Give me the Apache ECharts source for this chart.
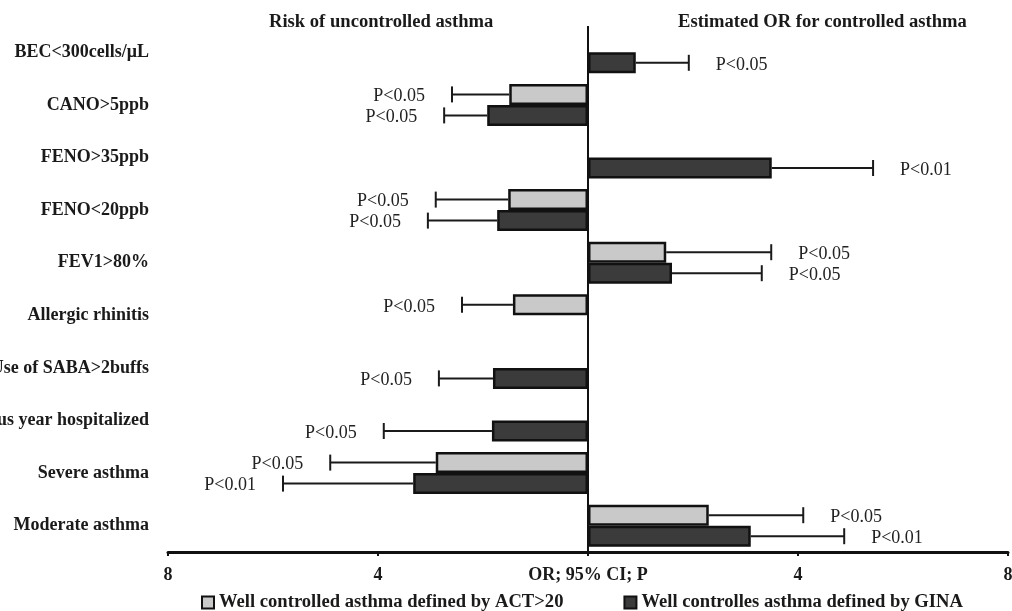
<!DOCTYPE html>
<html>
<head>
<meta charset="utf-8">
<script src="https://cdn.jsdelivr.net/npm/echarts@6/dist/echarts.min.js"></script>
<style>html,body{margin:0;padding:0;background:#fff}#c{width:1012px;height:611px}</style>
</head>
<body>
<div id="c"></div>
<script>
// Categories (top to bottom)
var categories = ['BEC<300cells/\u03bcL', 'CANO>5ppb', 'FENO>35ppb', 'FENO<20ppb', 'FEV1>80%',
  'Allergic rhinitis', 'Use of SABA>2buffs', 'Previous year hospitalized', 'Severe asthma', 'Moderate asthma'];
// Negative = risk of uncontrolled asthma (left), positive = OR for controlled asthma (right)
var actOR   = [null, -1.50, null, -1.52, 1.49, -1.43, null, null, -2.90, 2.30];
var actCI   = [null, -2.59, null, -2.90, 3.49, -2.40, null, null, -4.91, 4.10];
var actP    = [null, 'P<0.05', null, 'P<0.05', 'P<0.05', 'P<0.05', null, null, 'P<0.05', 'P<0.05'];
var ginaOR  = [0.91, -1.92, 3.50, -1.73, 1.60, null, -1.81, -1.83, -3.33, 3.10];
var ginaCI  = [1.92, -2.74, 5.43, -3.05, 3.31, null, -2.84, -3.89, -5.81, 4.88];
var ginaP   = ['P<0.05', 'P<0.05', 'P<0.01', 'P<0.05', 'P<0.05', null, 'P<0.05', 'P<0.05', 'P<0.01', 'P<0.01'];
var xTicks  = [-8, -4, 0, 4, 8];
var seriesNames = ['Well controlled asthma defined by ACT>20', 'Well controlles asthma defined by GINA'];
var panelTitles = ['Risk of uncontrolled asthma', 'Estimated OR for controlled asthma'];
var centerLabel = 'OR; 95% CI; P';

var FONT = 'Liberation Serif';
var BAR_W = 21;

function errData(orArr, ciArr) {
  var out = [];
  for (var i = 0; i < orArr.length; i++) {
    if (orArr[i] !== null && ciArr[i] !== null) out.push([orArr[i], ciArr[i], i]);
  }
  return out;
}

function makeRender(offsetSign, pArr) {
  return function (params, api) {
    var or = api.value(0), ci = api.value(1), idx = api.value(2);
    var yc = api.coord([0, idx])[1] + offsetSign * BAR_W / 2;
    var x0 = api.coord([or, idx])[0];
    var x1 = api.coord([ci, idx])[0];
    var dir = ci < 0 ? -1 : 1;
    var txt = pArr[idx];
    var children = [
      { type: 'line', shape: { x1: x0, y1: yc, x2: x1, y2: yc }, style: { stroke: '#1a1a1a', lineWidth: 2 } },
      { type: 'line', shape: { x1: x1, y1: yc - 8, x2: x1, y2: yc + 8 }, style: { stroke: '#1a1a1a', lineWidth: 2 } }
    ];
    if (txt) {
      children.push({
        type: 'text',
        style: {
          x: x1 + dir * 27, y: yc + 2, text: txt,
          textAlign: dir < 0 ? 'right' : 'left', textVerticalAlign: 'middle',
          fontFamily: FONT, fontSize: 18, fill: '#222'
        }
      });
    }
    return { type: 'group', children: children };
  };
}

var chart = echarts.init(document.getElementById('c'), null, { renderer: 'canvas' });
chart.setOption({
  animation: false,
  backgroundColor: '#fff',
  title: [
    { text: panelTitles[0], left: 264, top: 8, textStyle: { fontFamily: FONT, fontSize: 18.6, fontWeight: 'bold', color: '#1a1a1a' } },
    { text: panelTitles[1], left: 673, top: 8, textStyle: { fontFamily: FONT, fontSize: 18.6, fontWeight: 'bold', color: '#1a1a1a' } }
  ],
  legend: {
    data: seriesNames,
    left: 196, top: 588,
    icon: 'rect', itemWidth: 12, itemHeight: 12, itemGap: 60,
    itemStyle: { borderColor: '#111', borderWidth: 2 },
    textStyle: { fontFamily: FONT, fontSize: 18.6, fontWeight: 'bold', color: '#1a1a1a' }
  },
  grid: { left: 168, right: 4, top: 26, bottom: 59, containLabel: false, outerBoundsMode: 'none' },
  xAxis: {
    type: 'value', min: xTicks[0], max: xTicks[xTicks.length - 1], interval: 4,
    splitLine: { show: false },
    axisLine: { show: true, onZero: false, lineStyle: { color: '#111', width: 3 } },
    axisTick: { show: true, length: 4, lineStyle: { color: '#111', width: 2 } },
    axisLabel: {
      margin: 14, fontFamily: FONT, fontSize: 18, fontWeight: 'bold', color: '#1a1a1a',
      formatter: function (v) { return v === 0 ? centerLabel : String(Math.abs(v)); }
    }
  },
  yAxis: {
    type: 'category', data: categories, inverse: true,
    axisLine: { show: false }, axisTick: { show: false },
    axisLabel: { margin: 19, fontFamily: FONT, fontSize: 18, fontWeight: 'bold', color: '#1a1a1a' }
  },
  series: [
    {
      name: seriesNames[0], type: 'bar', data: actOR, barWidth: BAR_W, barGap: '0%',
      itemStyle: { color: '#c9c9c9', borderColor: '#111', borderWidth: 2.5 },
      markLine: {
        silent: true, symbol: 'none', label: { show: false },
        lineStyle: { color: '#111', width: 2, type: 'solid' },
        data: [{ xAxis: 0 }]
      }
    },
    {
      name: seriesNames[1], type: 'bar', data: ginaOR, barWidth: BAR_W, barGap: '0%',
      itemStyle: { color: '#3b3b3b', borderColor: '#111', borderWidth: 2.5 }
    },
    {
      type: 'custom', name: 'actErr', data: errData(actOR, actCI),
      encode: { x: [0, 1], y: 2 }, renderItem: makeRender(-1, actP), z: 3, silent: true
    },
    {
      type: 'custom', name: 'ginaErr', data: errData(ginaOR, ginaCI),
      encode: { x: [0, 1], y: 2 }, renderItem: makeRender(1, ginaP), z: 3, silent: true
    }
  ]
});
</script>
</body>
</html>
